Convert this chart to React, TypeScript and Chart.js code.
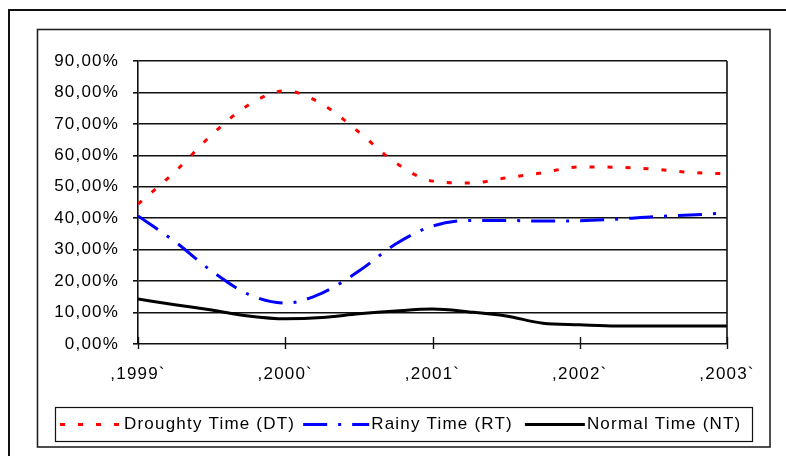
import React, { useEffect, useRef } from 'react';
import { Chart, registerables } from 'chart.js';

Chart.register(...registerables);

// quarter-year sample positions
const xYears = [1999, 1999.25, 1999.5, 1999.75, 2000, 2000.25, 2000.5, 2000.75, 2001, 2001.25, 2001.5, 2001.75, 2002, 2002.25, 2002.5, 2002.75, 2003];
const droughty = [44.5, 54.7, 66.5, 76.0, 80.5, 76.3, 67.4, 57.6, 51.8, 51.2, 52.8, 54.5, 56.3, 56.2, 55.6, 54.6, 54.1];
const rainy = [40.7, 32.6, 23.2, 15.8, 13.0, 16.2, 23.2, 31.8, 37.5, 39.3, 39.3, 39.1, 39.2, 39.7, 40.5, 41.0, 41.7];
const normal = [14.3, 12.5, 10.8, 8.9, 8.0, 8.4, 9.6, 10.5, 11.1, 10.2, 8.9, 6.6, 6.1, 5.7, 5.7, 5.7, 5.7];
const yearTicks = [1999, 2000, 2001, 2002, 2003];
const seriesNames = ['Droughty Time (DT)', 'Rainy Time (RT)', 'Normal Time (NT)'];

const FONT = '"Liberation Sans", Arial, sans-serif';
const SPACING = '1.2px';

const toPoints = (vals: number[]) => vals.map((v, i) => ({ x: xYears[i], y: v }));

const decorPlugin = {
  id: 'decor',
  beforeLayout(chart: any) {
    chart.ctx.letterSpacing = SPACING;
  },
  beforeDraw(chart: any) {
    const ctx = chart.ctx as CanvasRenderingContext2D;
    const W = chart.width;
    const H = chart.height;
    ctx.save();
    (ctx as any).letterSpacing = SPACING;
    ctx.fillStyle = '#ffffff';
    ctx.fillRect(0, 0, W, H);
    // outer frame (top & left visible)
    ctx.strokeStyle = '#111';
    ctx.lineWidth = 2;
    ctx.beginPath();
    ctx.moveTo(9, H + 2);
    ctx.lineTo(9, 10);
    ctx.lineTo(W + 2, 10);
    ctx.stroke();
    // inner frame
    ctx.lineWidth = 1.6;
    ctx.strokeStyle = '#222';
    ctx.strokeRect(37.5, 29.5, 732.5, 417.5);
    ctx.restore();
    ctx.letterSpacing = SPACING;
  },
  afterDraw(chart: any) {
    const ctx = chart.ctx as CanvasRenderingContext2D;
    const ca = chart.chartArea;
    const xs = chart.scales.x;
    ctx.save();
    // plot right border
    ctx.strokeStyle = '#111';
    ctx.lineWidth = 1.6;
    ctx.beginPath();
    ctx.moveTo(ca.right, ca.top);
    ctx.lineTo(ca.right, ca.bottom);
    ctx.stroke();
    // cross tick marks on category axis
    ctx.lineWidth = 1.4;
    yearTicks.forEach((t) => {
      const px = Math.round(xs.getPixelForValue(t)) + 0.5;
      ctx.beginPath();
      ctx.moveTo(px, ca.bottom - 7);
      ctx.lineTo(px, ca.bottom + 5);
      ctx.stroke();
    });
    // legend box
    ctx.lineWidth = 1.2;
    ctx.strokeStyle = '#111';
    ctx.strokeRect(55.5, 407.5, 697, 34);
    ctx.font = '17px ' + FONT;
    (ctx as any).letterSpacing = SPACING;
    ctx.textBaseline = 'middle';
    ctx.fillStyle = '#000';
    const y = 424.5;
    const sampleLen = [62, 66, 60];
    const gapAfter = [8, 12, 0];
    let x = 60;
    chart.data.datasets.forEach((ds: any, i: number) => {
      ctx.save();
      ctx.strokeStyle = ds.borderColor;
      ctx.lineWidth = ds.borderWidth;
      ctx.setLineDash(ds.borderDash || []);
      ctx.beginPath();
      ctx.moveTo(x, y);
      ctx.lineTo(x + sampleLen[i], y);
      ctx.stroke();
      ctx.restore();
      x += sampleLen[i] + 2;
      ctx.fillText(seriesNames[i], x, y);
      x += ctx.measureText(seriesNames[i]).width + gapAfter[i];
    });
    ctx.restore();
  },
};

export default function App() {
  const ref = useRef<HTMLCanvasElement | null>(null);
  useEffect(() => {
    if (!ref.current) return;
    const chart = new Chart(ref.current, {
      type: 'line',
      data: {
        datasets: [
          {
            label: seriesNames[0],
            data: toPoints(droughty),
            borderColor: '#ff0000',
            borderWidth: 3,
            borderDash: [5, 13],
            pointRadius: 0,
            fill: false,
            cubicInterpolationMode: 'monotone',
          },
          {
            label: seriesNames[1],
            data: toPoints(rainy),
            borderColor: '#0000ff',
            borderWidth: 3,
            borderDash: [24, 11, 3, 11],
            pointRadius: 0,
            fill: false,
            cubicInterpolationMode: 'monotone',
          },
          {
            label: seriesNames[2],
            data: toPoints(normal),
            borderColor: '#000000',
            borderWidth: 3,
            pointRadius: 0,
            fill: false,
            cubicInterpolationMode: 'monotone',
          },
        ],
      },
      options: {
        animation: false,
        responsive: true,
        maintainAspectRatio: false,
        layout: { padding: { left: 0, top: 61, right: 59, bottom: 0 } },
        plugins: {
          legend: { display: false },
          tooltip: { enabled: false },
        },
        scales: {
          x: {
            type: 'linear',
            min: 1999,
            max: 2003,
            afterFit: (s: any) => { s.height = 112; },
            afterBuildTicks: (s: any) => { s.ticks = yearTicks.map((v) => ({ value: v })); },
            grid: { display: false, drawTicks: false },
            border: { display: false },
            ticks: {
              padding: 20,
              color: '#000',
              font: { family: FONT, size: 17 },
              maxRotation: 0,
              autoSkip: false,
              callback: (v: any) => ',' + v + '`',
            },
          },
          y: {
            min: 0,
            max: 90,
            afterFit: (s: any) => { s.width = 138; },
            grid: { color: '#111', lineWidth: 1.6, tickLength: 5, drawTicks: true },
            border: { display: true, color: '#111', width: 1.6 },
            ticks: {
              stepSize: 10,
              padding: 14,
              color: '#000',
              font: { family: FONT, size: 17 },
              callback: (v: any) => Number(v).toFixed(2).replace('.', ',') + '%',
            },
          },
        },
      },
      plugins: [decorPlugin],
    });
    return () => chart.destroy();
  }, []);
  return (
    <div style={{ position: 'fixed', left: 0, top: 0, width: 786, height: 456, background: '#fff' }}>
      <canvas ref={ref} />
    </div>
  );
}
